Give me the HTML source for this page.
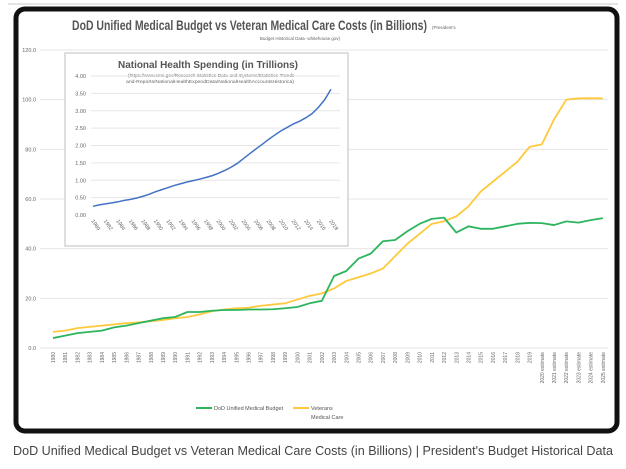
<!DOCTYPE html>
<html><head><meta charset="utf-8"><style>
body{margin:0;width:626px;height:464px;background:#fff;overflow:hidden;font-family:"Liberation Sans",sans-serif}
</style></head><body>
<svg id="s" width="626" height="464" xmlns="http://www.w3.org/2000/svg" font-family="Liberation Sans, sans-serif">
<line x1="8" y1="4" x2="618" y2="4" stroke="#e4e4e4" stroke-width="2"/>
<rect x="16" y="9" width="601" height="422" rx="9" fill="#fff" stroke="#111" stroke-width="5"/>
<text x="72" y="30" font-size="14" font-weight="bold" fill="#555" textLength="355" lengthAdjust="spacingAndGlyphs">DoD Unified Medical Budget vs Veteran Medical Care Costs (in Billions)</text>
<text x="432" y="29" font-size="4.5" fill="#666">(President's</text>
<text x="300" y="40" text-anchor="middle" font-size="4.5" fill="#666">Budget Historical Data-  whitehouse.gov)</text>
<g id="main"></g>
<rect x="65" y="53" width="283" height="193" fill="#fff" stroke="#c8c8c8" stroke-width="1.2"/>
<text x="118" y="68" font-size="10" font-weight="bold" fill="#555" textLength="180" lengthAdjust="spacingAndGlyphs">National Health Spending (in Trillions)</text>
<text x="212" y="77" text-anchor="middle" font-size="4.6" fill="#666" textLength="168" lengthAdjust="spacingAndGlyphs">(https://www.cms.gov/Research-Statistics-Data-and-Systems/Statistics-Trends-</text>
<text x="210" y="83" text-anchor="middle" font-size="4.6" fill="#666" textLength="168" lengthAdjust="spacingAndGlyphs">and-Reports/NationalHealthExpendData/NationalHealthAccountsHistorica)</text>
<g id="inset"></g>
<line x1="196" y1="408" x2="212" y2="408" stroke="#2db55d" stroke-width="2"/>
<text x="214" y="410" font-size="5.5" fill="#555">DoD Unified Medical Budget</text>
<line x1="293" y1="408" x2="309" y2="408" stroke="#ffc93c" stroke-width="2"/>
<text x="311" y="410" font-size="5.5" fill="#555">Veterans</text>
<text x="311" y="419" font-size="5.5" fill="#555">Medical Care</text>
<text x="313" y="455" text-anchor="middle" font-size="12.5" fill="#444" textLength="600" lengthAdjust="spacingAndGlyphs">DoD Unified Medical Budget vs Veteran Medical Care Costs (in Billions) | President's Budget Historical Data</text>
</svg>
<script>
const NS="http://www.w3.org/2000/svg";
function el(p,t,a,txt){const e=document.createElementNS(NS,t);for(const k in a)e.setAttribute(k,a[k]);if(txt!==undefined)e.textContent=txt;p.appendChild(e);return e;}
const m=document.getElementById('main');
const y0=348,sc=298/120;
for(let v=0;v<=120;v+=20){const y=y0-v*sc;el(m,'line',{x1:40,x2:608,y1:y,y2:y,stroke:'#e6e6e6','stroke-width':1});el(m,'text',{x:36,y:y+2,'text-anchor':'end','font-size':5.5,fill:'#666'},v.toFixed(1));}
const X=i=>53+i*12.22;
for(let i=0;i<46;i++){const yr=1980+i;const lab=yr>=2020?yr+' estimate':''+yr;const x=X(i)+2;el(m,'text',{x:x,y:352,'font-size':5,fill:'#666','text-anchor':'end',transform:`rotate(-90 ${x} 352)`},lab);}
const dod=[4,5,6,6.5,7,8.3,9,10,11,12,12.5,14.5,14.5,15,15.3,15.3,15.5,15.5,15.6,16,16.5,18,19,29,31,36,38,43,43.5,47,50,52,52.5,46.5,49,48,48,49,50,50.4,50.3,49.5,51,50.5,51.5,52.3];
const va=[6.5,7,8,8.5,9,9.5,10,10.3,10.8,11.3,12,12.5,13.5,14.8,15.5,16,16.2,17,17.5,18,19.5,21,22,24,27,28.5,30,32,37,42,46,50,51,53,57,63,67,71,75,81,82,92,100,100.5,100.6,100.5];
function pl(d,c){el(m,'polyline',{points:d.map((v,i)=>X(i)+','+(y0-v*sc)).join(' '),fill:'none',stroke:c,'stroke-width':1.8,'stroke-linejoin':'round'});}
pl(va,'#ffc93c');pl(dod,'#2db55d');
const n=document.getElementById('inset');
const iy0=215,is=139/4;
for(let v=0;v<=4;v+=0.5){const y=iy0-v*is;if(v>0)el(n,'line',{x1:91,x2:340,y1:y,y2:y,stroke:'#e6e6e6'});el(n,'text',{x:86,y:y+2,'text-anchor':'end','font-size':5.5,fill:'#666'},v.toFixed(2));}
const IX=i=>93+i*(238/38);
for(let yr=1980;yr<=2018;yr+=2){const x=IX(yr-1980)-2;el(n,'text',{x:x,y:221,'font-size':5.3,fill:'#666',transform:`rotate(55 ${x} 221)`},''+yr);}
const nh2=[0.25,0.29,0.32,0.35,0.38,0.42,0.45,0.49,0.54,0.6,0.67,0.73,0.79,0.85,0.9,0.95,0.99,1.03,1.08,1.13,1.2,1.28,1.37,1.48,1.62,1.76,1.9,2.03,2.17,2.3,2.42,2.52,2.62,2.7,2.8,2.92,3.1,3.32,3.62];
el(n,'polyline',{points:nh2.map((v,i)=>IX(i)+','+(iy0-v*is)).join(' '),fill:'none',stroke:'#4472c4','stroke-width':1.5});
</script>
</body></html>
